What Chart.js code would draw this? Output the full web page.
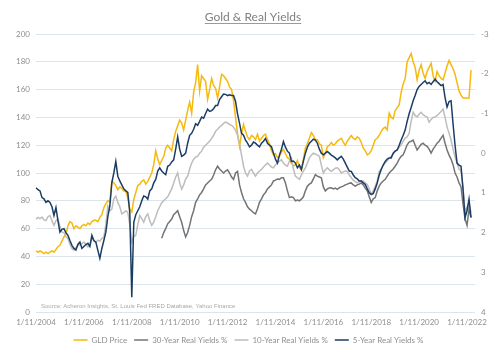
<!DOCTYPE html>
<html>
<head>
<meta charset="utf-8">
<script src="https://cdn.jsdelivr.net/npm/chart.js@4.4.1/dist/chart.umd.min.js"></script>
<style>
html,body{margin:0;padding:0;background:#fff;}
#wrap{width:497px;height:358px;position:relative;}
</style>
</head>
<body>
<div id="wrap"><canvas id="c" width="497" height="358"></canvas></div>
<script>
// Monthly observations, first month = Nov 2004
const startYear = 2004, startMonth = 11, monthCount = 221;
const tickEvery = 24;
const titleText = "Gold & Real Yields";
const sourceText = "Source: Acheron Insights, St. Louis Fed FRED Database, Yahoo Finance";
const seriesNames = ["GLD Price", "30-Year Real Yields %", "10-Year Real Yields %", "5-Year Real Yields %"];
const leftTicks = {min: 0, max: 200, step: 20};
const rightTicks = {min: -3, max: 4, step: 1};

const gld = [44,43,44,43,42,43,42,43,44,43,45,47,48,51,54,56,62,65,64,60,62,61,60,62,63,62,64,63,65,66,66,65,68,70,75,78,80,79,94,93,91,88,90,89,87,87,82,74,72,81,86,91,92,94,95,92,94,97,100,106,116,110,106,109,112,118,120,118,116,124,130,134,138,136,131,138,145,151,143,158,165,178,159,170,168,166,153,160,168,163,161,154,162,171,170,168,166,162,160,152,140,128,119,128,135,130,126,124,127,126,124,128,123,125,127,128,124,121,116,113,114,111,112,115,117,114,111,110,107,105,106,109,104,102,110,118,121,125,129,127,124,124,121,120,111,114,119,120,122,120,121,123,124,125,122,120,123,125,127,125,124,126,125,122,118,116,113,114,116,120,124,125,127,130,132,133,131,143,140,139,145,147,149,158,164,168,180,183,186,180,176,167,174,178,172,168,173,176,179,170,166,173,170,168,167,172,177,181,178,175,171,165,159,156,154,154,154,154,174];

const y30 = [null,null,null,null,null,null,null,null,null,null,null,null,null,null,null,null,null,null,null,null,null,null,null,null,null,null,null,null,null,null,null,null,null,null,null,null,null,null,null,null,null,null,null,null,null,null,null,null,null,null,null,null,null,null,null,null,null,null,null,null,null,null,null,
2.14,2.0,1.9,1.78,1.72,1.66,1.55,1.5,1.45,1.6,1.74,1.95,2.11,2.0,1.82,1.6,1.45,1.24,1.15,1.05,0.99,0.9,0.8,0.75,0.7,0.66,0.55,0.42,0.33,0.4,0.45,0.5,0.45,0.42,0.5,0.6,0.66,0.5,0.46,0.8,0.99,1.15,1.24,1.35,1.41,1.45,1.5,1.53,1.4,1.24,1.15,1.05,0.99,0.9,0.85,0.8,0.7,0.68,0.65,0.66,0.62,0.62,0.75,0.95,1.12,1.1,1.12,1.2,1.18,1.2,1.16,1.1,0.95,0.83,0.78,0.75,0.65,0.54,0.58,0.6,0.62,0.85,0.95,0.9,0.88,0.87,0.9,0.88,0.91,0.87,0.85,0.83,0.8,0.78,0.76,0.75,0.8,0.83,0.8,0.78,0.75,0.8,0.88,0.95,1.1,1.24,1.15,1.12,0.95,0.83,0.75,0.7,0.66,0.58,0.5,0.45,0.4,0.33,0.25,0.15,0.08,0.04,-0.08,-0.21,-0.28,-0.3,-0.33,-0.2,-0.08,-0.15,-0.22,-0.25,-0.2,-0.17,-0.1,0.0,-0.1,-0.17,-0.25,-0.3,-0.38,-0.45,-0.25,-0.08,0.05,0.15,0.29,0.5,0.6,0.75,0.85,1.28,1.65,1.82,1.41,1.62];

const y10 = [1.66,1.62,1.65,1.61,1.68,1.7,1.6,1.57,1.7,1.82,1.7,1.66,1.85,1.99,2.0,2.1,2.15,2.3,2.4,2.44,2.38,2.32,2.3,2.28,2.24,2.3,2.36,2.3,2.15,2.2,2.25,2.19,2.22,2.15,2.11,1.8,1.33,1.45,1.41,1.15,1.08,1.24,1.35,1.53,1.5,1.45,1.49,1.8,2.24,2.1,2.07,1.8,1.57,1.65,1.74,1.6,1.53,1.7,1.82,1.74,1.6,1.45,1.35,1.25,1.2,1.15,1.1,1.0,0.9,0.75,0.6,0.5,0.75,0.91,0.8,0.65,0.58,0.4,0.25,0.15,0.1,0.08,0.0,-0.05,-0.15,-0.2,-0.25,-0.3,-0.37,-0.45,-0.55,-0.6,-0.66,-0.7,-0.75,-0.78,-0.76,-0.72,-0.7,-0.65,-0.58,-0.45,-0.25,0.05,0.33,0.5,0.58,0.45,0.41,0.5,0.58,0.5,0.45,0.41,0.35,0.3,0.25,0.3,0.35,0.37,0.3,0.25,0.2,0.17,0.25,0.3,0.33,0.2,0.12,0.4,0.58,0.62,0.66,0.55,0.45,0.37,0.25,0.12,0.05,0.0,0.02,0.05,0.08,0.3,0.5,0.42,0.37,0.42,0.46,0.42,0.38,0.37,0.42,0.5,0.47,0.45,0.46,0.55,0.62,0.68,0.72,0.75,0.72,0.7,0.7,0.75,0.79,0.9,1.04,0.95,0.83,0.7,0.46,0.4,0.3,0.25,0.2,0.12,0.08,0.02,-0.05,-0.08,-0.15,-0.21,-0.3,-0.38,-0.41,-0.5,-0.8,-1.03,-0.95,-0.91,-0.98,-1.03,-0.97,-0.93,-0.91,-0.78,-0.85,-0.9,-0.91,-0.95,-1.0,-1.05,-1.11,-0.9,-0.66,-0.5,-0.33,-0.1,0.1,0.25,0.41,0.45,0.87,1.49,1.35,1.28,1.49];

const y5 = [0.87,0.92,0.95,1.12,1.15,1.24,1.2,1.24,1.35,1.57,1.37,1.7,1.99,1.92,1.9,2.0,2.07,2.2,2.32,2.4,2.44,2.3,2.24,2.4,2.35,2.3,2.27,2.35,2.07,2.2,2.24,2.45,2.65,2.4,2.2,1.99,1.6,1.33,0.75,0.5,0.21,0.58,0.7,0.8,0.9,0.95,0.99,1.5,3.63,1.74,1.55,1.45,1.35,1.2,1.08,1.1,1.16,0.95,0.9,0.75,0.66,0.45,0.37,0.45,0.5,0.54,0.33,0.3,0.22,0.17,-0.1,-0.41,-0.1,0.08,0.05,0,-0.25,-0.45,-0.5,-0.6,-0.74,-0.7,-0.8,-0.91,-0.88,-1.0,-1.11,-1.05,-1.07,-1.12,-1.2,-1.2,-1.35,-1.42,-1.49,-1.48,-1.45,-1.47,-1.45,-1.45,-1.3,-0.99,-0.75,-0.5,-0.45,-0.33,-0.25,-0.16,-0.2,-0.28,-0.25,-0.2,-0.16,-0.25,-0.3,-0.37,-0.25,-0.2,-0.16,0.0,0.15,0.25,0.05,-0.1,-0.29,-0.15,-0.05,0.0,0.21,0.2,0.25,0.37,0.3,0.41,0.2,0.0,-0.15,-0.25,-0.3,-0.35,-0.33,-0.25,-0.1,0.0,0.04,0.0,-0.04,0.0,0.05,0.08,0.12,0.17,0.12,0.08,0.15,0.25,0.35,0.45,0.46,0.55,0.62,0.65,0.7,0.7,0.75,0.79,0.9,1.0,1.04,1.02,0.9,0.75,0.55,0.41,0.3,0.21,0.15,0.12,0.12,0.0,-0.05,-0.08,-0.2,-0.33,-0.45,-0.58,-0.8,-0.99,-1.15,-1.32,-1.45,-1.6,-1.68,-1.73,-1.78,-1.82,-1.75,-1.78,-1.73,-1.8,-1.86,-1.8,-1.75,-1.7,-1.73,-1.4,-1.16,-1.3,-1.32,-0.74,-0.2,0.25,0.3,0.33,0.91,1.62,1.45,1.16,1.62];

const colors = ["#F5B90F", "#747474", "#BDBDBD", "#1C3D63"];

const labels = [];
for (let m = 0; m < monthCount; m++) {
  const idx = startMonth - 1 + m;
  labels.push("1/" + (idx % 12 + 1) + "/" + (startYear + Math.floor(idx / 12)));
}

const FONT = "Lato, 'Open Sans', sans-serif";
const GREY = "#8f8f8f";

const extras = {
  id: "extras",
  afterDraw(chart) {
    const ctx = chart.ctx;
    ctx.save();
    ctx.font = "12px " + FONT;
    ctx.fillStyle = "#808080";
    ctx.textAlign = "center";
    ctx.textBaseline = "alphabetic";
    const tx = 253, ty = 21;
    ctx.fillText(titleText, tx, ty);
    const w = ctx.measureText(titleText).width;
    ctx.strokeStyle = "#808080";
    ctx.lineWidth = 0.8;
    ctx.beginPath();
    ctx.moveTo(tx - w / 2, ty + 2.5);
    ctx.lineTo(tx + w / 2, ty + 2.5);
    ctx.stroke();
    const a = chart.chartArea;
    ctx.font = "6px Arial, 'Liberation Sans', sans-serif";
    ctx.fillStyle = "#a8a8a8";
    ctx.textAlign = "left";
    ctx.fillText(sourceText, a.left + 5, a.bottom - 4);
    ctx.restore();
  }
};

function mk(i, data, axis, order) {
  return {
    label: seriesNames[i], data: data, yAxisID: axis,
    borderColor: colors[i], backgroundColor: colors[i],
    borderWidth: 1.5, pointRadius: 0, tension: 0, fill: false,
    spanGaps: false, order: order
  };
}

new Chart(document.getElementById("c"), {
  type: "line",
  data: {
    labels: labels,
    datasets: [
      mk(0, gld, "yL", 4),
      mk(1, y30, "yR", 3),
      mk(2, y10, "yR", 2),
      mk(3, y5, "yR", 1)
    ]
  },
  options: {
    responsive: false,
    animation: false,
    devicePixelRatio: 1,
    layout: {padding: {top: 34, left: 0, right: 0, bottom: 4}},
    plugins: {
      title: {display: false},
      tooltip: {enabled: false},
      legend: {
        position: "bottom",
        labels: {
          color: GREY,
          font: {family: FONT, size: 8},
          usePointStyle: true,
          pointStyle: "line",
          pointStyleWidth: 14,
          padding: 7,
          boxHeight: 2,
          sort: (a, b) => a.datasetIndex - b.datasetIndex
        }
      }
    },
    scales: {
      x: {
        type: "category",
        offset: false,
        grid: {display: false, drawTicks: false},
        border: {display: false},
        ticks: {
          autoSkip: false, maxRotation: 0, minRotation: 0,
          color: GREY, font: {family: FONT, size: 8}, padding: 6,
          callback: function (v, i) { return i % tickEvery === 0 ? labels[i] : null; }
        },
        afterFit: s => { s.height = 17; }
      },
      yL: {
        position: "left",
        min: leftTicks.min, max: leftTicks.max,
        grid: {color: "#DCE4EC", drawTicks: false, lineWidth: 1},
        border: {display: false},
        ticks: {stepSize: leftTicks.step, color: GREY, font: {family: FONT, size: 8}, padding: 6},
        afterFit: s => { s.width = 36; }
      },
      yR: {
        position: "right",
        reverse: true,
        min: rightTicks.min, max: rightTicks.max,
        grid: {display: false, drawTicks: false},
        border: {display: false},
        ticks: {stepSize: rightTicks.step, color: GREY, font: {family: FONT, size: 8}, padding: 6},
        afterFit: s => { s.width = 22; }
      }
    }
  },
  plugins: [extras]
});
</script>
</body>
</html>
